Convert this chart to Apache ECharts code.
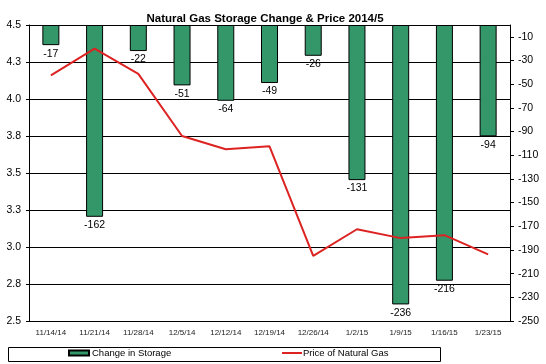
<!DOCTYPE html>
<html>
<head>
<meta charset="utf-8">
<script src="https://cdn.jsdelivr.net/npm/echarts@6/dist/echarts.min.js"></script>
<style>html,body{margin:0;padding:0;background:#fff}#c{width:546px;height:364px}</style>
</head>
<body>
<div id="c"></div>
<script>
const categories = ['11/14/14','11/21/14','11/28/14','12/5/14','12/12/14','12/19/14','12/26/14','1/2/15','1/9/15','1/16/15','1/23/15'];
const storageChange = [-17, -162, -22, -51, -64, -49, -26, -131, -236, -216, -94];
const gasPrice = [4.16, 4.34, 4.17, 3.75, 3.66, 3.68, 2.94, 3.12, 3.06, 3.08, 2.95];

const FONT = "'Liberation Sans', Arial, sans-serif";
const chart = echarts.init(document.getElementById('c'), null, {renderer: 'canvas'});
chart.setOption({
  animation: false,
  backgroundColor: '#fff',
  title: {
    text: 'Natural Gas Storage Change & Price 2014/5',
    left: 260, top: 8, textAlign: 'center',
    textStyle: {fontFamily: FONT, fontSize: 11.5, fontWeight: 'bold', color: '#000'}
  },
  graphic: [{
    type: 'rect', shape: {x: 8.5, y: 347.5, width: 432, height: 14},
    style: {fill: 'none', stroke: '#000', lineWidth: 1}, silent: true
  }],
  grid: {left: 29, right: 36, top: 25, bottom: 43, containLabel: false},
  legend: [
    {
      left: 68, top: 348, padding: 0,
      itemWidth: 20, itemHeight: 5, itemGap: 4,
      textStyle: {fontFamily: FONT, fontSize: 9.5, color: '#000', padding: [0, 0, 0, -2]},
      data: [{name: 'Change in Storage', icon: 'rect'}]
    },
    {
      left: 282, top: 348, padding: 0,
      itemWidth: 20, itemHeight: 2, itemGap: 4,
      textStyle: {fontFamily: FONT, fontSize: 9.5, color: '#000', padding: [0, 0, 0, -4]},
      data: [{name: 'Price of Natural Gas', icon: 'rect', itemStyle: {color: '#DD2222', borderWidth: 0}}]
    }
  ],
  xAxis: {
    type: 'category', data: categories, boundaryGap: true,
    axisLine: {lineStyle: {color: '#000', width: 1}},
    axisTick: {show: false},
    axisLabel: {fontFamily: FONT, fontSize: 8, color: '#222', margin: 8, interval: 0}
  },
  yAxis: [
    {
      type: 'value', min: 2.5, max: 4.5, interval: 0.25, position: 'left',
      axisLine: {show: true, lineStyle: {color: '#000'}},
      axisTick: {show: true, length: 3, lineStyle: {color: '#000'}},
      splitLine: {show: true, lineStyle: {color: '#000', width: 1}},
      axisLabel: {fontFamily: FONT, fontSize: 10.5, color: '#000', margin: 8,
        formatter: v => v.toFixed(1)}
    },
    {
      type: 'value', min: -250, max: 0, interval: 20, position: 'right',
      axisLine: {show: true, lineStyle: {color: '#000'}},
      axisTick: {show: true, length: 4, lineStyle: {color: '#000'}},
      splitLine: {show: false},
      axisLabel: {fontFamily: FONT, fontSize: 10.5, color: '#000', margin: 8, showMaxLabel: false,
        formatter: v => (v === 0 ? '' : String(v))}
    }
  ],
  series: [
    {
      name: 'Change in Storage', type: 'bar', yAxisIndex: 1, data: storageChange,
      barWidth: 17,
      itemStyle: {color: '#33976A', borderColor: '#000', borderWidth: 1},
      label: {show: true, position: 'bottom', distance: 3, fontFamily: FONT, fontSize: 10.5, color: '#000'}
    },
    {
      name: 'Price of Natural Gas', type: 'line', yAxisIndex: 0, data: gasPrice,
      symbol: 'none', z: 5,
      lineStyle: {color: '#DD2222', width: 2},
      itemStyle: {color: '#DD2222'}
    }
  ]
});
</script>
</body>
</html>
